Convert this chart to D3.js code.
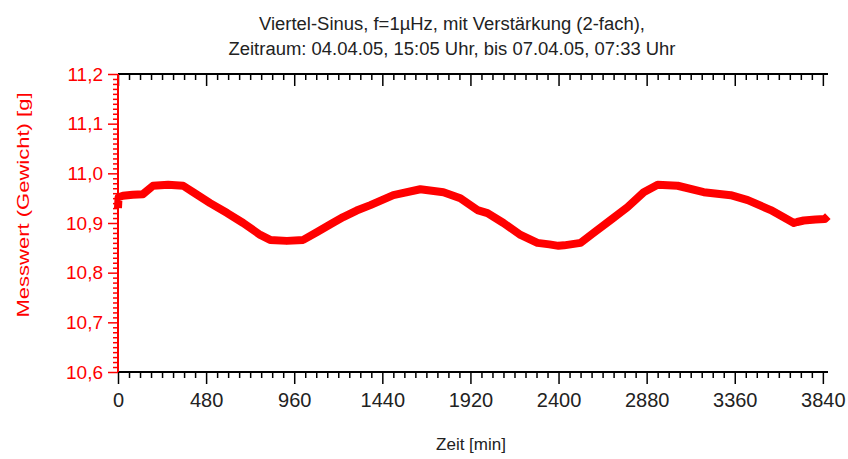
<!DOCTYPE html>
<html><head><meta charset="utf-8">
<script src="https://cdn.jsdelivr.net/npm/d3@7"></script>
<style>html,body{margin:0;padding:0;background:#fff;}svg{display:block;}</style>
</head><body>
<svg id="c" width="848" height="459"></svg>
<script>
const titleLines = ["Viertel-Sinus, f=1µHz, mit Verstärkung (2-fach),", "Zeitraum: 04.04.05, 15:05 Uhr, bis 07.04.05, 07:33 Uhr"];
const xTitle = "Zeit [min]";
const yTitle = "Messwert (Gewicht) [g]";
const xTicks = [0, 480, 960, 1440, 1920, 2400, 2880, 3360, 3840];
const yTicks = [10.6, 10.7, 10.8, 10.9, 11.0, 11.1, 11.2];
const timeMin = [0, 3, 27, 80, 136, 191, 273, 355, 409, 502, 595, 682, 775, 829, 920, 1009, 1085, 1160, 1227, 1300, 1375, 1500, 1647, 1773, 1865, 1958, 2013, 2100, 2193, 2285, 2350, 2400, 2430, 2520, 2591, 2684, 2776, 2864, 2940, 3049, 3191, 3338, 3431, 3556, 3682, 3700, 3736, 3800, 3850, 3867];
const weight = [10.93, 10.952, 10.955, 10.957, 10.958, 10.975, 10.977, 10.975, 10.962, 10.94, 10.92, 10.90, 10.876, 10.866, 10.864, 10.866, 10.882, 10.898, 10.912, 10.925, 10.936, 10.956, 10.968, 10.962, 10.95, 10.926, 10.92, 10.90, 10.876, 10.86, 10.857, 10.854, 10.855, 10.86, 10.88, 10.906, 10.932, 10.962, 10.977, 10.975, 10.962, 10.956, 10.946, 10.926, 10.90, 10.902, 10.905, 10.907, 10.908, 10.914];

const svg = d3.select("#c");
const L = 118, R = 828, T = 74, B = 372;
const x = d3.scaleLinear().domain([0, 3868]).range([L, R]);
const y = d3.scaleLinear().domain([10.6, 11.2]).range([B, T]);
const red = "#ff0000";
const txt = "#222";
const font = "'Liberation Sans', Arial, sans-serif";

// title
const tw = [386, 447];
titleLines.forEach((t, i) => {
  svg.append("text").attr("x", 452).attr("y", 30 + i * 25)
    .attr("text-anchor", "middle").attr("font-family", font).attr("font-size", 18)
    .attr("fill", txt).attr("textLength", tw[i]).attr("lengthAdjust", "spacingAndGlyphs").text(t);
});

// bottom axis
const xMinor = d3.range(0, 3841, 60).filter(v => !xTicks.includes(v));
const gb = svg.append("g").attr("transform", `translate(0,${B})`);
gb.call(d3.axisBottom(x).tickValues(xMinor).tickSize(6).tickFormat(""));
gb.append("g").call(d3.axisBottom(x).tickValues(xTicks).tickSize(12).tickPadding(9).tickFormat(d3.format("d")));
gb.selectAll(".domain").remove();
gb.selectAll("line").attr("stroke", "#000").attr("stroke-width", 1.5);
gb.selectAll("text").attr("font-family", font).attr("font-size", 20).attr("fill", txt);
svg.append("line").attr("x1", L).attr("x2", R).attr("y1", B).attr("y2", B).attr("stroke", "#000").attr("stroke-width", 2);

// top axis (ticks inward)
const gt = svg.append("g").attr("transform", `translate(0,${T})`);
gt.call(d3.axisBottom(x).tickValues(xMinor).tickSize(6).tickFormat(""));
gt.append("g").call(d3.axisBottom(x).tickValues(xTicks).tickSize(12).tickFormat(""));
gt.selectAll(".domain").remove();
gt.selectAll("line").attr("stroke", "#000").attr("stroke-width", 1.5);
svg.append("line").attr("x1", L).attr("x2", R).attr("y1", T).attr("y2", T).attr("stroke", "#000").attr("stroke-width", 2);

// left axis
const yMinor = d3.range(0, 61).map(i => +(10.6 + i * 0.01).toFixed(2)).filter(v => !yTicks.some(t => Math.abs(t - v) < 1e-6));
const gl = svg.append("g").attr("transform", `translate(${L},0)`);
gl.call(d3.axisLeft(y).tickValues(yMinor).tickSize(5).tickFormat(""));
gl.append("g").call(d3.axisLeft(y).tickValues(yTicks).tickSize(10).tickPadding(5).tickFormat(d => d3.format(".1f")(d).replace(".", ",")));
gl.selectAll(".domain").remove();
gl.selectAll("line").attr("stroke", red).attr("stroke-width", 1.5);
gl.selectAll("text").attr("font-family", font).attr("font-size", 19).attr("fill", red);
svg.append("line").attr("x1", L).attr("x2", L).attr("y1", T).attr("y2", B).attr("stroke", red).attr("stroke-width", 2);

// data line
const data = timeMin.map((t, i) => ({t, v: weight[i]}));
svg.append("path").datum(data)
  .attr("d", d3.line().x(d => x(d.t)).y(d => y(d.v)))
  .attr("fill", "none").attr("stroke", red).attr("stroke-width", 8)
  .attr("stroke-linejoin", "round").attr("stroke-linecap", "butt");

// axis titles
svg.append("text").attr("x", 471).attr("y", 450).attr("text-anchor", "middle")
  .attr("font-family", font).attr("font-size", 17).attr("fill", txt).text(xTitle);
svg.append("text").attr("transform", "translate(29,205) rotate(-90)").attr("text-anchor", "middle")
  .attr("font-family", font).attr("font-size", 17).attr("fill", red)
  .attr("textLength", 225).attr("lengthAdjust", "spacingAndGlyphs").text(yTitle);
</script>
</body></html>
